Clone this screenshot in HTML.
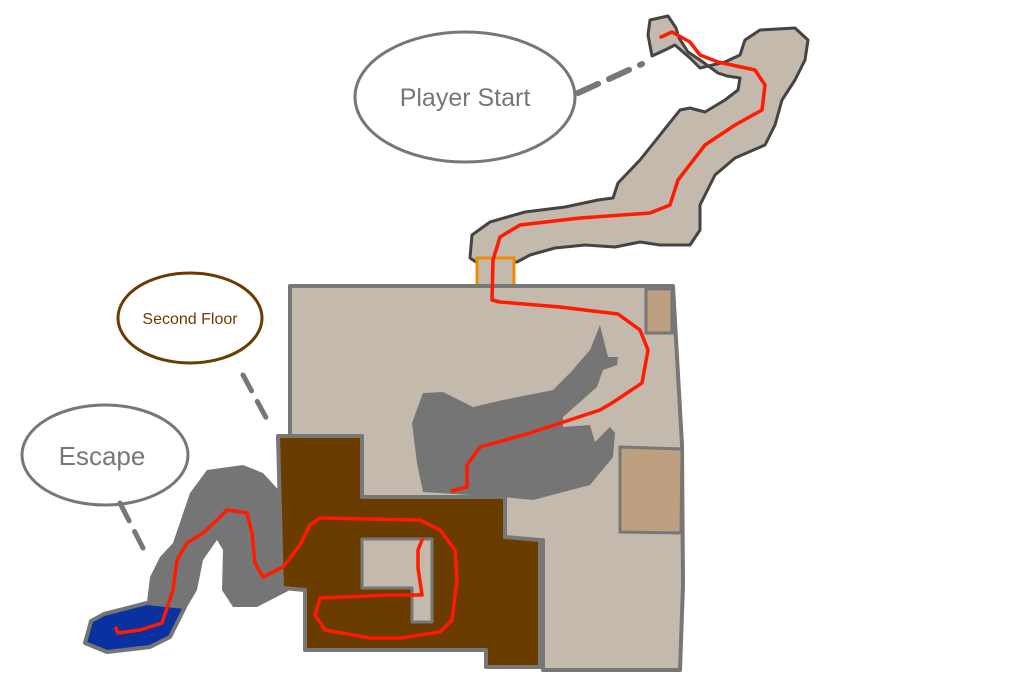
<!DOCTYPE html>
<html><head><meta charset="utf-8"><style>html,body{margin:0;padding:0;background:#fff;}svg{display:block}</style></head>
<body>
<svg width="1024" height="685" viewBox="0 0 1024 685" xmlns="http://www.w3.org/2000/svg">
<!-- top cave -->
<path d="M470,258 L472,235 L490,222 L525,212 L565,207 L598,200 L613,198 L618,183 L640,160 L660,135 L680,110 L690,108 L705,112 L725,100 L738,90 L740,78 L727,76 L718,73 L700,60 L688,52 L679,38 L676,28 L668,16 L650,20 L648,35 L652,56 L665,50 L675,45 L690,58 L700,68 L725,62 L740,55 L745,40 L760,30 L795,28 L808,40 L805,60 L795,80 L782,100 L775,125 L765,145 L735,158 L715,175 L700,205 L700,230 L690,245 L660,245 L640,242 L615,247 L585,245 L555,248 L530,255 L517,262 L476,262 Z" fill="#c4b9ad" stroke="#444" stroke-width="3" stroke-linejoin="round"/>
<rect x="477" y="258" width="37" height="30" fill="#c4b9ad" stroke="#f08a00" stroke-width="3"/>
<!-- main building -->
<path d="M290,286 L673,286 L682,445 L683,585 L680,670 L543,670 L543,540 L290,540 Z" fill="#c4b9ad" stroke="#777" stroke-width="4" stroke-linejoin="round"/>
<rect x="646" y="289" width="26" height="44" fill="#bca07f" stroke="#777" stroke-width="3"/>
<path d="M620,447 L682,449 L681,533 L620,532 Z" fill="#bca07f" stroke="#777" stroke-width="3"/>
<!-- shadow -->
<path d="M423,393 L443,392 L473,407 L503,400 L553,390 L570,373 L590,350 L600,325 L608,357 L618,357 L617,365 L603,370 L597,387 L563,417 L563,427 L590,425 L595,442 L610,427 L615,433 L613,457 L590,485 L533,500 L503,497 L423,492 L417,463 L412,423 Z" fill="#757575"/>
<!-- left tunnel -->
<path d="M207,470 L243,465 L263,473 L285,497 L290,590 L257,607 L233,607 L222,590 L223,550 L217,540 L203,560 L197,590 L187,607 L170,637 L150,647 L107,652 L83,643 L90,620 L103,613 L147,602 L150,577 L160,557 L173,543 L190,493 Z" fill="#757575"/>
<path d="M147,603 L185,607 L170,637 L150,647 L107,652 L85,643 L91,621 L104,614 Z" fill="#0a31a0" stroke="#757575" stroke-width="4" stroke-linejoin="round"/>
<!-- brown -->
<path d="M278,436 L362,436 L362,497 L505,497 L505,537 L540,540 L540,667 L486,667 L486,650 L305,650 L305,590 L282,588 Z" fill="#6b3c00" stroke="#777" stroke-width="4" stroke-linejoin="round"/>
<path d="M362,539 L432,539 L432,622 L412,622 L412,588 L362,588 Z" fill="#c4b9ad" stroke="#777" stroke-width="3" stroke-linejoin="round"/>
<!-- red paths -->
<path d="M661,37 L672,32 L690,42 L700,55 L718,62 L755,70 L765,85 L762,110 L735,125 L705,145 L678,180 L670,205 L650,213 L580,218 L520,225 L500,237 L493,260 L492,300 L500,302 L560,307 L618,314 L640,330 L648,350 L642,383 L612,403 L600,410 L530,433 L480,447 L467,465 L467,487 L452,491" fill="none" stroke="#ff1a00" stroke-width="3.5" stroke-linejoin="round" stroke-linecap="round"/>
<path d="M422,540 L418,550 L418,568 L422,595 L390,595 L320,598 L315,615 L325,630 L370,638 L400,638 L440,632 L452,620 L457,580 L455,550 L440,530 L420,520 L320,518 L310,525 L300,545 L283,567 L263,577 L255,563 L252,533 L247,513 L227,510 L217,520 L203,533 L187,543 L177,560 L173,590 L162,623 L140,630 L118,633 L116,628" fill="none" stroke="#ff1a00" stroke-width="3.5" stroke-linejoin="round" stroke-linecap="round"/>
<!-- callouts -->
<ellipse cx="465" cy="97" rx="110" ry="65" fill="#fff" stroke="#777" stroke-width="3"/>
<text x="465" y="106" font-family="Liberation Sans, sans-serif" font-size="25" fill="#777" text-anchor="middle">Player Start</text>
<line x1="578" y1="93" x2="642" y2="64" stroke="#777" stroke-width="6" stroke-dasharray="22,12" stroke-linecap="round"/>
<ellipse cx="190" cy="318" rx="72" ry="45" fill="#fff" stroke="#6b3c00" stroke-width="3"/>
<text x="190" y="324" font-family="Liberation Sans, sans-serif" font-size="16" fill="#6b3c00" text-anchor="middle">Second Floor</text>
<line x1="243" y1="375" x2="270" y2="425" stroke="#777" stroke-width="5" stroke-dasharray="18,12" stroke-linecap="round"/>
<ellipse cx="105" cy="455" rx="83" ry="50" fill="#fff" stroke="#777" stroke-width="3"/>
<text x="102" y="465" font-family="Liberation Sans, sans-serif" font-size="26" fill="#777" text-anchor="middle">Escape</text>
<line x1="120" y1="503" x2="143" y2="548" stroke="#777" stroke-width="5" stroke-dasharray="20,12" stroke-linecap="round"/>
</svg>
</body></html>
